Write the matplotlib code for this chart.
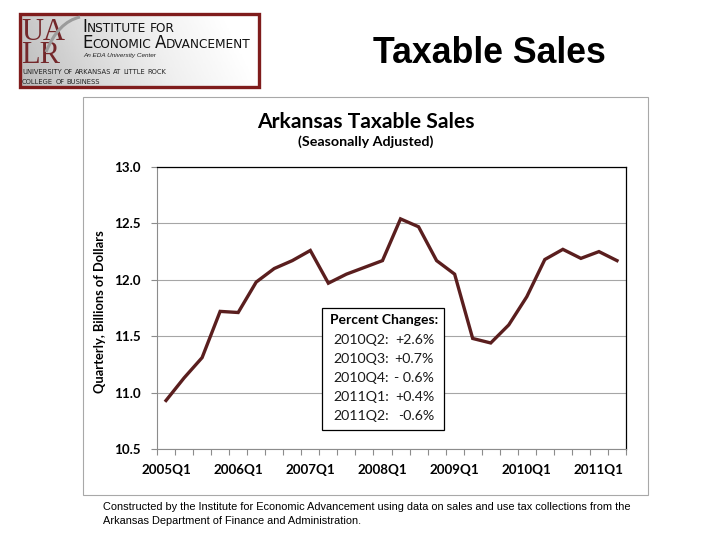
import matplotlib
matplotlib.use('agg')
import matplotlib.pyplot as plt
from matplotlib.patches import Rectangle, PathPatch
from matplotlib.path import Path
import numpy as np

# quarterly taxable sales, billions of dollars (seasonally adjusted)
quarters = [f'{y}Q{q}' for y in range(2005, 2012) for q in range(1, 5)][:26]
sales = [10.93, 11.13, 11.31, 11.72, 11.71, 11.98, 12.10, 12.17, 12.26, 11.97,
         12.05, 12.11, 12.17, 12.54, 12.47, 12.17, 12.05, 11.48, 11.44, 11.60,
         11.85, 12.18, 12.27, 12.19, 12.25, 12.17]
label_quarters = ['2005Q1', '2006Q1', '2007Q1', '2008Q1', '2009Q1', '2010Q1', '2011Q1']
y_ticks = [10.5, 11.0, 11.5, 12.0, 12.5, 13.0]

change_periods = ['2010Q2:', '2010Q3:', '2010Q4:', '2011Q1:', '2011Q2:']
change_values = ['+2.6%', '+0.7%', '- 0.6%', '+0.4%', '-0.6%']

LINE = '#5a1e1e'
CHART_FONT = 'Lato'

fig = plt.figure(figsize=(7.2, 5.4), dpi=100)
fig.patch.set_facecolor('white')

# background layer in pixel coordinates
bg = fig.add_axes([0, 0, 1, 1], zorder=0)
bg.set_xlim(0, 720)
bg.set_ylim(540, 0)
bg.axis('off')

renderer = fig.canvas.get_renderer()


def small_caps(ax, x, y, words, big, small, color, family='DejaVu Sans', gap=0.3):
    # words: list of (word, first letter enlarged?)
    for word, cap in words:
        parts = [(word[0], big), (word[1:], small)] if cap else [(word, small)]
        for s, size in parts:
            if not s:
                continue
            t = ax.text(x, y, s, fontsize=size, family=family, color=color,
                        va='baseline', ha='left')
            x += t.get_window_extent(renderer).width
        x += small * gap * 100 / 72


# logo
grad = np.linspace(0, 1, 200)[None, :] * np.ones((50, 1))
grad = grad + np.linspace(0.3, 0, 50)[:, None] * 0.5
bg.imshow(grad, cmap='Greys_r', vmin=-1.6, vmax=1.0, extent=(20, 259, 87, 14),
          aspect='auto', zorder=1)
bg.set_xlim(0, 720)
bg.set_ylim(540, 0)
bg.add_patch(Rectangle((20, 14), 239, 73, fill=False, ec='#7f1c1c', lw=2.4, zorder=3))
bg.text(21, 63, 'UA\nLR', fontsize=22, family='Liberation Serif', color='#74282b',
        va='baseline', ha='left', linespacing=0.72, zorder=4)
swoosh = Path([(46, 52), (58, 22), (80, 17)], [Path.MOVETO, Path.CURVE3, Path.CURVE3])
bg.add_patch(PathPatch(swoosh, fill=False, ec='#9b9b9b', lw=2.2, zorder=5))
small_caps(bg, 82, 31.7, [('INSTITUTE', True), ('FOR', False)], 12, 8.7, '#111111')
small_caps(bg, 82, 48, [('ECONOMIC', True), ('ADVANCEMENT', True)], 12, 8.7, '#111111')
bg.text(83, 57.5, 'An EDA University Center', fontsize=4.6, style='italic',
        family='Liberation Sans', color='#222222', va='baseline')
small_caps(bg, 22, 73.5, [(w, False) for w in 'UNIVERSITY OF ARKANSAS AT LITTLE ROCK'.split()],
           5, 4.9, '#222222')
small_caps(bg, 22, 83.5, [(w, False) for w in 'COLLEGE OF BUSINESS'.split()],
           5, 4.9, '#222222')

# slide title
bg.text(373, 63.3, 'Taxable Sales', fontsize=25.7, fontweight='bold',
        family='Liberation Sans', color='black', va='baseline', ha='left')

# chart picture frame
bg.add_patch(Rectangle((83, 97), 565, 398, fc='white', ec='#a8a8a8', lw=0.8, zorder=2))
bg.text(366, 128.3, 'Arkansas Taxable Sales', fontsize=15.2, fontweight='bold',
        family=CHART_FONT, ha='center', va='baseline', zorder=3)
bg.text(366, 146, '(Seasonally Adjusted)', fontsize=10.3, fontweight='bold',
        family=CHART_FONT, ha='center', va='baseline', zorder=3)
bg.text(100, 312, 'Quarterly, Billions of Dollars', fontsize=9.3, fontweight='bold',
        family=CHART_FONT, rotation=90, ha='center', va='center', zorder=3)

# caption
bg.text(103, 510.5, 'Constructed by the Institute for Economic Advancement using data on '
        'sales and use tax collections from the', fontsize=7.9,
        family='Liberation Sans', color='black', va='baseline', ha='left')
bg.text(103, 524, 'Arkansas Department of Finance and Administration.', fontsize=7.9,
        family='Liberation Sans', color='black', va='baseline', ha='left')

# data axes
ax = fig.add_axes([157 / 720, 1 - 449 / 540, 469 / 720, 282 / 540], zorder=1)
x = np.arange(len(quarters))
ax.plot(x, sales, color=LINE, lw=2.4, solid_joinstyle='miter', zorder=3)
ax.set_xlim(-0.5, len(quarters) - 0.5)
ax.set_ylim(10.5, 13.0)
ax.set_yticks(y_ticks)
ax.set_yticklabels([f'{v:.1f}' for v in y_ticks])
ax.set_xticks([quarters.index(q) for q in label_quarters])
ax.set_xticklabels(label_quarters)
ax.set_xticks(np.arange(-0.5, len(quarters)), minor=True)
ax.tick_params(axis='x', which='major', length=0, pad=11)
ax.tick_params(axis='x', which='minor', length=4, width=0.8, color='#8c8c8c')
ax.tick_params(axis='y', length=4, width=0.8, color='#8c8c8c', pad=8)
for lab in ax.get_xticklabels() + ax.get_yticklabels():
    lab.set_fontfamily(CHART_FONT)
    lab.set_fontweight('bold')
    lab.set_fontsize(9.6)
ax.yaxis.grid(True, color='#a6a6a6', lw=0.8)
ax.set_axisbelow(True)
for side in ('left', 'bottom'):
    ax.spines[side].set_color('#8c8c8c')
    ax.spines[side].set_linewidth(0.8)
for side in ('top', 'right'):
    ax.spines[side].set_color('black')
    ax.spines[side].set_linewidth(0.9)

# percent changes box on top
top = fig.add_axes([0, 0, 1, 1], zorder=2)
top.set_xlim(0, 720)
top.set_ylim(540, 0)
top.axis('off')
top.add_patch(Rectangle((321.5, 307.5), 122.5, 122.5, fc='white', ec='black', lw=0.9))
top.text(384, 324.5, 'Percent Changes:', fontsize=10, fontweight='bold',
         family=CHART_FONT, ha='center', va='baseline')
for i, (p, v) in enumerate(zip(change_periods, change_values)):
    yy = 344 + i * 19
    top.text(333, yy, p, fontsize=10.2, family=CHART_FONT, color='#1a1a1a',
             ha='left', va='baseline')
    top.text(434, yy, v, fontsize=10.2, family=CHART_FONT, color='#1a1a1a',
             ha='right', va='baseline')

fig.savefig('out.png', dpi=100)
